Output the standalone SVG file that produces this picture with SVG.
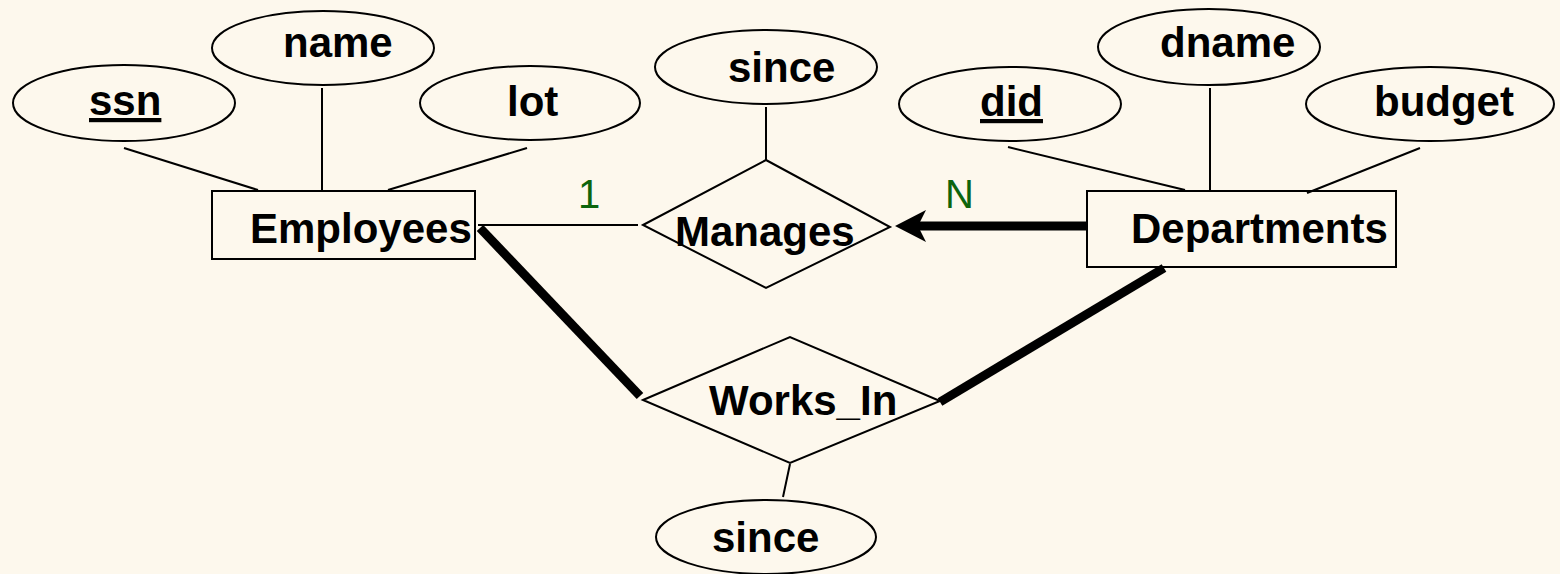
<svg xmlns="http://www.w3.org/2000/svg" width="1560" height="574" viewBox="0 0 1560 574">
  <style>
    .shape { fill: none; stroke: #000; stroke-width: 2; }
    .link { stroke: #000; stroke-width: 2; fill: none; }
    .bold { stroke: #000; stroke-width: 9; fill: none; }
    .lbl { font-family: "Liberation Sans", Arial, sans-serif; font-weight: bold; font-size: 42px; fill: #000; }
    .key { text-decoration: underline; }
    .card { font-family: "Liberation Sans", Arial, sans-serif; font-size: 40px; fill: #0d650d; }
  </style>
  <rect width="1560" height="574" fill="#fdf8ed"/>

  <!-- connectors -->
  <g id="connectors">
    <line class="link" x1="124" y1="148" x2="258" y2="190"/>
    <line class="link" x1="322" y1="88" x2="322" y2="190"/>
    <line class="link" x1="527" y1="148" x2="388" y2="190"/>
    <line class="link" x1="766" y1="107" x2="766" y2="160"/>
    <line class="link" x1="478" y1="225" x2="638" y2="225"/>
    <line class="link" x1="1008" y1="147" x2="1185" y2="190"/>
    <line class="link" x1="1210" y1="88" x2="1210" y2="190"/>
    <line class="link" x1="1420" y1="148" x2="1307" y2="193"/>
    <line class="link" x1="790" y1="464" x2="783" y2="497"/>
    <line class="bold" x1="1087" y1="226" x2="918" y2="226"/>
    <polygon points="895,226 926,210 918,226 926,242" fill="#000"/>
    <line class="bold" x1="480" y1="228" x2="640" y2="396"/>
    <line class="bold" x1="1164" y1="268" x2="940" y2="402"/>
    <text class="card" x="578" y="208">1</text>
    <text class="card" x="945" y="208">N</text>
  </g>

  <g id="ssn">
    <ellipse class="shape" cx="124" cy="103" rx="111" ry="38"/>
    <text class="lbl key" x="89" y="115">ssn</text>
  </g>
  <g id="name">
    <ellipse class="shape" cx="323" cy="48" rx="111" ry="37"/>
    <text class="lbl" x="283" y="57">name</text>
  </g>
  <g id="lot">
    <ellipse class="shape" cx="530" cy="103" rx="110" ry="37"/>
    <text class="lbl" x="507" y="116">lot</text>
  </g>
  <g id="employees">
    <rect class="shape" x="212" y="191" width="263" height="68"/>
    <text class="lbl" x="250" y="243">Employees</text>
  </g>
  <g id="since-manages">
    <ellipse class="shape" cx="766" cy="67" rx="111" ry="37"/>
    <text class="lbl" x="728" y="82">since</text>
  </g>
  <g id="manages">
    <polygon class="shape" points="643,225 766,160 890,227 766,288"/>
    <text class="lbl" x="675" y="246">Manages</text>
  </g>
  <g id="did">
    <ellipse class="shape" cx="1010" cy="104" rx="111" ry="37"/>
    <text class="lbl key" x="980" y="116">did</text>
  </g>
  <g id="dname">
    <ellipse class="shape" cx="1209" cy="47" rx="111" ry="38"/>
    <text class="lbl" x="1160" y="57">dname</text>
  </g>
  <g id="budget">
    <ellipse class="shape" cx="1430" cy="104" rx="124" ry="37"/>
    <text class="lbl" x="1374" y="116">budget</text>
  </g>
  <g id="departments">
    <rect class="shape" x="1087" y="191" width="309" height="76"/>
    <text class="lbl" x="1131" y="243">Departments</text>
  </g>
  <g id="works-in">
    <polygon class="shape" points="643,400 790,337 940,401 790,463"/>
    <text class="lbl" x="709" y="415">Works_In</text>
  </g>
  <g id="since-works-in">
    <ellipse class="shape" cx="766" cy="537" rx="110" ry="37"/>
    <text class="lbl" x="712" y="552">since</text>
  </g>
</svg>
